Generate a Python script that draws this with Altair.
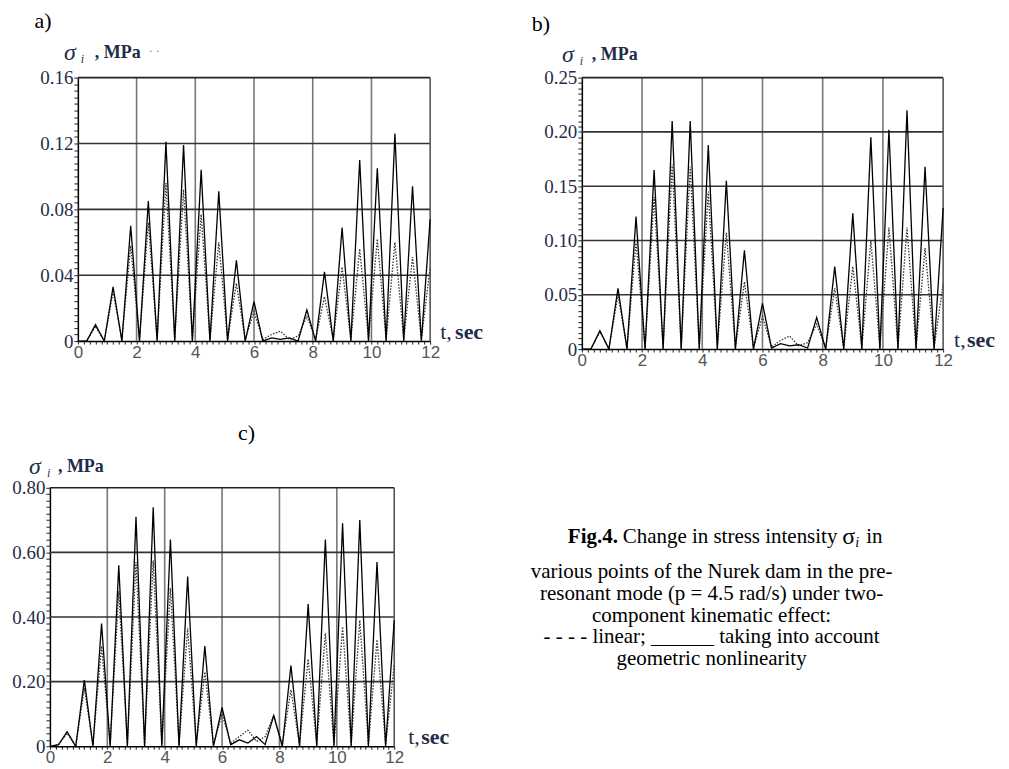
import altair as alt
import pandas as pd

# time grid (s)
TIME = [0.0, 0.3, 0.6, 0.9, 1.2, 1.5, 1.8, 2.1, 2.4, 2.7, 3.0, 3.3, 3.6, 3.9,
        4.2, 4.5, 4.8, 5.1, 5.4, 5.7, 6.0, 6.3, 6.6, 6.9, 7.2, 7.5, 7.8, 8.1,
        8.4, 8.7, 9.0, 9.3, 9.6, 9.9, 10.2, 10.5, 10.8, 11.1, 11.4, 11.7, 12.0]

# panel a) sigma_i, MPa
A_NONLIN = [0.0, 0.0, 0.010, 0.0, 0.033, 0.0, 0.070, 0.0, 0.085, 0.0, 0.121, 0.0,
            0.119, 0.0, 0.104, 0.0, 0.091, 0.0, 0.049, 0.0, 0.024, 0.0, 0.002, 0.001,
            0.002, 0.0, 0.019, 0.0, 0.042, 0.0, 0.069, 0.0, 0.110, 0.0, 0.105, 0.0,
            0.126, 0.0, 0.094, 0.0, 0.074]
A_LIN = [0.0, 0.0, 0.009, 0.0, 0.030, 0.001, 0.058, 0.001, 0.072, 0.001, 0.096, 0.001,
         0.092, 0.001, 0.077, 0.001, 0.060, 0.001, 0.035, 0.001, 0.018, 0.001, 0.004, 0.006,
         0.001, 0.003, 0.015, 0.001, 0.027, 0.001, 0.045, 0.001, 0.056, 0.001, 0.062, 0.001,
         0.060, 0.001, 0.051, 0.001, 0.045]

# panel b)
B_NONLIN = [0.0, 0.0, 0.017, 0.0, 0.056, 0.0, 0.122, 0.0, 0.165, 0.0, 0.210, 0.0,
            0.210, 0.0, 0.188, 0.0, 0.155, 0.0, 0.091, 0.0, 0.042, 0.001, 0.005, 0.003,
            0.004, 0.001, 0.029, 0.0, 0.076, 0.0, 0.125, 0.0, 0.195, 0.0, 0.202, 0.0,
            0.220, 0.0, 0.168, 0.0, 0.130]
B_LIN = [0.0, 0.0, 0.016, 0.0, 0.050, 0.001, 0.099, 0.001, 0.140, 0.001, 0.170, 0.001,
         0.168, 0.001, 0.145, 0.001, 0.107, 0.001, 0.062, 0.001, 0.030, 0.002, 0.008, 0.012,
         0.003, 0.006, 0.023, 0.001, 0.056, 0.001, 0.076, 0.001, 0.100, 0.001, 0.112, 0.001,
         0.112, 0.001, 0.093, 0.001, 0.060]

# panel c)
C_NONLIN = [0.0, 0.005, 0.045, 0.0, 0.205, 0.0, 0.38, 0.0, 0.56, 0.0, 0.71, 0.0,
            0.74, 0.0, 0.64, 0.0, 0.525, 0.0, 0.31, 0.0, 0.12, 0.005, 0.02, 0.01,
            0.03, 0.005, 0.095, 0.0, 0.25, 0.0, 0.44, 0.0, 0.64, 0.0, 0.69, 0.0,
            0.70, 0.0, 0.57, 0.0, 0.39]
C_LIN = [0.0, 0.005, 0.04, 0.0, 0.18, 0.005, 0.31, 0.005, 0.48, 0.005, 0.57, 0.005,
         0.575, 0.005, 0.49, 0.005, 0.365, 0.005, 0.23, 0.005, 0.10, 0.01, 0.03, 0.05,
         0.015, 0.03, 0.095, 0.005, 0.175, 0.005, 0.27, 0.005, 0.35, 0.005, 0.37, 0.005,
         0.39, 0.005, 0.33, 0.005, 0.25]

X_GRID = [2, 4, 6, 8, 10]

CAPTION_LINES = [
    "various points of the Nurek dam in the pre-",
    "resonant mode (p = 4.5 rad/s) under two-",
    "component kinematic effect:",
    "- - - - linear; ______ taking into account",
    "geometric nonlinearity",
]

SERIF = "Liberation Serif"
SANS = "Liberation Sans"
NAVY = "#1f2d4a"


def txt(s, x, y, size, weight="normal", style="normal", align="left",
        baseline="middle", color="black", font=SERIF):
    return alt.Chart(pd.DataFrame({"s": [s]})).mark_text(
        font=font, fontSize=size, fontWeight=weight, fontStyle=style,
        align=align, baseline=baseline, color=color,
    ).encode(x=alt.value(x), y=alt.value(y), text="s:N")


def panel(nl, lin, ymax, ymajor, yminor, w, h, xoff, extras):
    df = pd.DataFrame({"t": TIME, "nl": nl, "lin": lin})
    if xoff:
        xs = alt.Scale(domain=[0, 12], nice=False, zero=False, range=[xoff, w])
    else:
        xs = alt.Scale(domain=[0, 12], nice=False, zero=False)
    ys = alt.Scale(domain=[0, ymax], nice=False)
    n_minor = round(ymax / yminor)
    yvals = [round(i * yminor, 6) for i in range(n_minor + 1)]
    xvals = [round(i * 0.2, 6) for i in range(61)]
    n_major = round(ymax / ymajor)
    y_grid = [round(i * ymajor, 6) for i in range(1, n_major)]
    yaxis = alt.Axis(
        values=yvals, title=None, grid=False, offset=-xoff,
        labelExpr=(f"abs(datum.value/{ymajor} - round(datum.value/{ymajor})) < 1e-6 ? "
                   "(datum.value == 0 ? '0' : format(datum.value, '.2f')) : ''"),
        labelFont=SERIF, labelFontSize=19, labelColor=NAVY, labelPadding=1,
        labelOverlap=False, labelFlush=False,
        tickSize=4, tickColor="#222", tickWidth=1,
        domainColor="black", domainWidth=1.5,
    )
    xaxis = alt.Axis(
        values=xvals, title=None, grid=False,
        labelExpr="abs(datum.value/2 - round(datum.value/2)) < 1e-6 ? format(datum.value, 'd') : ''",
        labelFont=SANS, labelFontSize=17, labelColor="#555", labelPadding=0,
        labelOverlap=False, labelFlush=False,
        tickSize=3, tickColor="#222", tickWidth=1,
        domainColor="black", domainWidth=1.5,
    )
    X = lambda f: alt.X(f, scale=xs, axis=xaxis)
    Y = lambda f: alt.Y(f, scale=ys, axis=yaxis)
    frame = pd.DataFrame({"x0": [0], "x1": [12], "y0": [0], "y1": [ymax]})
    gx = alt.Chart(pd.DataFrame({"g": X_GRID, "y0": 0, "y1": ymax})).mark_rule(
        color="#777", strokeWidth=1.6).encode(x=X("g:Q"), y=Y("y0:Q"), y2="y1:Q")
    gy = alt.Chart(pd.DataFrame({"g": y_grid, "x0": 0, "x1": 12})).mark_rule(
        color="#333", strokeWidth=1.6).encode(y=Y("g:Q"), x=X("x0:Q"), x2="x1:Q")
    ftop = alt.Chart(frame).mark_rule(color="#222", strokeWidth=1.6).encode(
        x=X("x0:Q"), x2="x1:Q", y=Y("y1:Q"))
    fright = alt.Chart(frame).mark_rule(color="#555", strokeWidth=1.6).encode(
        x=X("x1:Q"), y=Y("y0:Q"), y2="y1:Q")
    base = alt.Chart(df)
    lin_line = base.mark_line(color="#333", strokeWidth=1.3, strokeDash=[1.5, 1.5]).encode(
        x=X("t:Q"), y=Y("lin:Q"))
    nl_line = base.mark_line(color="black", strokeWidth=1.3).encode(
        x=X("t:Q"), y=Y("nl:Q"))
    return alt.layer(gx, gy, ftop, fright, lin_line, nl_line, *extras).properties(
        width=w, height=h)


def ytitle(sx, sy, ix, mx):
    return [
        txt("σ", sx, sy, 24, style="italic", color=NAVY),
        txt("i", ix, sy + 6, 12, style="italic", color=NAVY),
        txt(", MPa", mx, sy, 18, weight="bold", color=NAVY),
    ]


def tsec(w, h, dt, ds):
    return [
        txt("t,", w + dt, h - 2, 22, baseline="alphabetic", color=NAVY),
        txt("sec", w + ds, h - 2, 22, weight="bold", baseline="alphabetic", color=NAVY),
    ]


WA, HA = 353, 264
WB, HB = 362, 272
CSHIFT = 28           # panel c starts this far left of panel a
WC, HC = 345 - CSHIFT, 259

a_extra = [txt("a)", -35, -57, 22, align="center")] + ytitle(-14, -25, 3, 17) + \
    [txt("·  ·", 71, -27, 12, color="#777")] + tsec(WA, HA, 10, 25)
b_extra = [txt("b)", -41, -54, 22, align="center")] + ytitle(-20, -23, -2, 10) + tsec(WB, HB, 11, 24)

c_extra = [txt("c)", 197 - CSHIFT, -55, 22, align="center")] + \
    ytitle(-21 - CSHIFT, -21, -3 - CSHIFT, 8 - CSHIFT) + tsec(WC, HC, 14, 27)
c_extra += [
    txt("Fig.4.", 491, 49, 21, weight="bold"),
    txt("Change in stress intensity", 546, 49, 21),
    txt("σ", 766, 49, 24),
    txt("i", 779, 55, 14, style="italic"),
    txt("in", 790, 49, 21),
]
CAP_Y = [84, 106, 128, 150, 172]
for line, yy in zip(CAPTION_LINES, CAP_Y):
    c_extra.append(txt(line, 635, yy, 21, align="center"))

pa = panel(A_NONLIN, A_LIN, 0.16, 0.04, 0.004, WA, HA, 0, a_extra)
pb = panel(B_NONLIN, B_LIN, 0.25, 0.05, 0.005, WB, HB, 0, b_extra)
pc = panel(C_NONLIN, C_LIN, 0.80, 0.20, 0.02, WC, HC, -CSHIFT, c_extra)

chart = alt.concat(pa, pb, pc, columns=2, spacing={"row": 139, "column": 152},
                   bounds="flush").properties(
    padding={"left": 3, "top": 0, "right": 5, "bottom": 5},
    background="white",
).configure_view(stroke="transparent")

chart.save("out.html", embed_options={"renderer": "svg", "actions": False})
